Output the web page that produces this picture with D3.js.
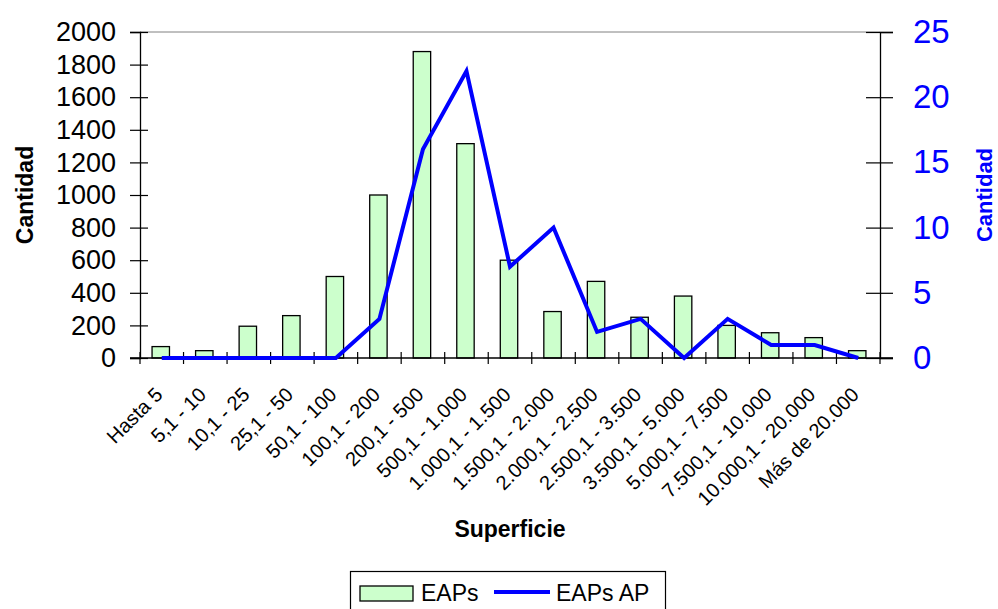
<!DOCTYPE html>
<html>
<head>
<meta charset="utf-8">
<script src="https://cdn.jsdelivr.net/npm/d3@7"></script>
<style>
  body { margin: 0; background: #fff; }
  svg { display: block; font-family: "Liberation Sans", Arial, sans-serif; }
</style>
</head>
<body>
<div id="chart"></div>
<script>
// datos
const categorias = ["Hasta 5", "5,1 - 10", "10,1 - 25", "25,1 - 50", "50,1 - 100",
    "100,1 - 200", "200,1 - 500", "500,1 - 1.000", "1.000,1 - 1.500",
    "1.500,1 - 2.000", "2.000,1 - 2.500", "2.500,1 - 3.500", "3.500,1 - 5.000",
    "5.000,1 - 7.500", "7.500,1 - 10.000", "10.000,1 - 20.000", "Más de 20.000"];
const eaps = [70, 45, 195, 260, 500, 1000, 1880, 1315, 600, 285, 470, 250, 380, 200, 155, 125, 45];
const eapsAP = [0, 0, 0, 0, 0, 3, 16, 22, 7, 10, 2, 3, 0, 3, 1, 1, 0];
const ticksIzq = [0, 200, 400, 600, 800, 1000, 1200, 1400, 1600, 1800, 2000];
const ticksDer = [0, 5, 10, 15, 20, 25];

const W = 998, H = 609;
const plot = {left: 140, right: 880, top: 32, bottom: 358};

const svg = d3.select("#chart").append("svg")
    .attr("width", W).attr("height", H);

const x = d3.scaleBand().domain(categorias).range([plot.left, plot.right]);
const yL = d3.scaleLinear().domain([0, 2000]).range([plot.bottom, plot.top]);
const yR = d3.scaleLinear().domain([0, 25]).range([plot.bottom, plot.top]);

// borde superior del area de ploteo
svg.append("line")
    .attr("x1", plot.left).attr("x2", plot.right)
    .attr("y1", plot.top).attr("y2", plot.top)
    .attr("stroke", "#808080").attr("stroke-width", 1);

// barras
const bw = x.bandwidth() / 2.5;
svg.selectAll("rect.bar")
    .data(eaps)
    .enter().append("rect")
    .attr("class", "bar")
    .attr("x", (d, i) => x(categorias[i]) + x.bandwidth() / 2 - bw / 2 - 1)
    .attr("y", d => yL(d))
    .attr("width", bw)
    .attr("height", d => plot.bottom - yL(d))
    .attr("fill", "#CCFFCC")
    .attr("stroke", "#000")
    .attr("stroke-width", 1.3);

// eje izquierdo
const ejeIzq = svg.append("g")
    .attr("transform", "translate(" + plot.left + ",0)")
    .call(d3.axisLeft(yL).tickValues(ticksIzq).tickFormat(d3.format("d"))
        .tickSize(10).tickPadding(14));
ejeIzq.select(".domain").attr("stroke", "#000").attr("stroke-width", 1.3);
ejeIzq.selectAll(".tick line").attr("x2", 8).attr("x1", -10).attr("stroke-width", 1.2);
ejeIzq.selectAll(".tick text")
    .attr("font-size", 27).attr("fill", "#000")
    .attr("font-family", "Liberation Sans, Arial, sans-serif");

// eje derecho
const ejeDer = svg.append("g")
    .attr("transform", "translate(" + plot.right + ",0)")
    .call(d3.axisRight(yR).tickValues(ticksDer).tickFormat(d3.format("d"))
        .tickSize(13).tickPadding(20));
ejeDer.select(".domain").attr("stroke", "#000").attr("stroke-width", 1.3);
ejeDer.selectAll(".tick line").attr("x1", -14).attr("x2", 13).attr("stroke-width", 1.2);
ejeDer.selectAll(".tick text")
    .attr("font-size", 33).attr("fill", "#0000FF")
    .attr("font-family", "Liberation Sans, Arial, sans-serif");

// eje inferior
const ejeX = svg.append("g")
    .attr("transform", "translate(0," + plot.bottom + ")");
ejeX.append("line")
    .attr("x1", plot.left - 10).attr("x2", plot.right + 13)
    .attr("stroke", "#000").attr("stroke-width", 1.3);
const limites = categorias.map(c => x(c)).concat([plot.right]);
ejeX.selectAll("line.tk")
    .data(limites)
    .enter().append("line")
    .attr("class", "tk")
    .attr("x1", d => d).attr("x2", d => d)
    .attr("y1", -6).attr("y2", 6)
    .attr("stroke", "#000").attr("stroke-width", 1.2);
ejeX.selectAll("text")
    .data(categorias)
    .enter().append("text")
    .attr("transform", d => "translate(" + (x(d) + x.bandwidth() / 2 + 2) + ",38) rotate(-45)")
    .attr("text-anchor", "end")
    .attr("font-size", 20)
    .text(d => d);

// linea EAPs AP
const linea = d3.line()
    .x((d, i) => x(categorias[i]) + x.bandwidth() / 2)
    .y(d => yR(d));
svg.append("path")
    .datum(eapsAP)
    .attr("d", linea)
    .attr("fill", "none")
    .attr("stroke", "#0000FF")
    .attr("stroke-width", 4)
    .attr("stroke-linejoin", "miter");

// titulos
svg.append("text")
    .attr("transform", "translate(33,195) rotate(-90)")
    .attr("text-anchor", "middle")
    .attr("font-size", 23).attr("font-weight", "bold")
    .text("Cantidad");
svg.append("text")
    .attr("transform", "translate(992,195) rotate(-90)")
    .attr("text-anchor", "middle")
    .attr("font-size", 22).attr("font-weight", "bold")
    .attr("fill", "#0000FF")
    .text("Cantidad");
svg.append("text")
    .attr("x", 510).attr("y", 537)
    .attr("text-anchor", "middle")
    .attr("font-size", 23).attr("font-weight", "bold")
    .text("Superficie");

// leyenda
const ley = svg.append("g");
ley.append("rect")
    .attr("x", 350.5).attr("y", 571.5).attr("width", 315).attr("height", 50)
    .attr("fill", "#fff").attr("stroke", "#000").attr("stroke-width", 1.2);
ley.append("rect")
    .attr("x", 360).attr("y", 586).attr("width", 53).attr("height", 15)
    .attr("fill", "#CCFFCC").attr("stroke", "#000").attr("stroke-width", 1.3);
ley.append("text")
    .attr("x", 421).attr("y", 601)
    .attr("font-size", 23).text("EAPs");
ley.append("line")
    .attr("x1", 494).attr("x2", 550).attr("y1", 592).attr("y2", 592)
    .attr("stroke", "#0000FF").attr("stroke-width", 4);
ley.append("text")
    .attr("x", 556).attr("y", 601)
    .attr("font-size", 23).text("EAPs AP");
</script>
</body>
</html>
